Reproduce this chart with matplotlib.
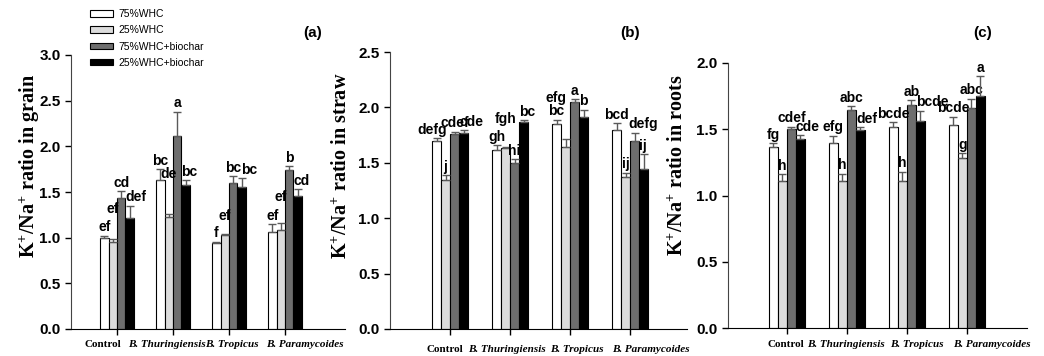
import matplotlib
matplotlib.use("Agg")
import matplotlib.pyplot as plt
import numpy as np

plt.rcParams["font.family"] = ["Liberation Sans", "DejaVu Sans"]
plt.rcParams["mathtext.fontset"] = "custom"
plt.rcParams["mathtext.rm"] = "Liberation Serif:bold"
plt.rcParams["mathtext.it"] = "Liberation Serif:bold"

# data
groups = ["Control", "B. Thuringiensis", "B. Tropicus", "B. Paramycoides"]
treatments = ["75%WHC", "25%WHC", "75%WHC+biochar", "25%WHC+biochar"]

# (a) grain, rows = treatments, cols = groups
grain_mean = [[1.00, 1.63, 0.94, 1.06],
              [0.95, 1.23, 1.03, 1.08],
              [1.43, 2.11, 1.60, 1.74],
              [1.22, 1.58, 1.55, 1.46]]
grain_err = [[0.02, 0.12, 0.015, 0.09],
             [0.03, 0.03, 0.005, 0.08],
             [0.08, 0.27, 0.07, 0.04],
             [0.13, 0.05, 0.10, 0.07]]
grain_sig = [["ef", "bc", "f", "ef"],
             ["ef", "de", "ef", "ef"],
             ["cd", "a", "bc", "b"],
             ["def", "bc", "bc", "cd"]]

# (b) straw
straw_mean = [[1.70, 1.615, 1.85, 1.80],
              [1.345, 1.63, 1.645, 1.37],
              [1.76, 1.50, 2.045, 1.70],
              [1.77, 1.865, 1.91, 1.44]]
straw_err = [[0.02, 0.045, 0.04, 0.06],
             [0.045, 0.01, 0.07, 0.04],
             [0.02, 0.03, 0.03, 0.07],
             [0.025, 0.02, 0.07, 0.14]]
straw_sig = [["defg", "gh", "bc", "bcd"],
             ["j", "fgh", "efg", "ij"],
             ["cdef", "hi", "a", "defg"],
             ["cde", "bc", "b", "ij"]]

# (c) roots
roots_mean = [[1.365, 1.40, 1.515, 1.535],
              [1.11, 1.11, 1.11, 1.28],
              [1.505, 1.645, 1.68, 1.66],
              [1.43, 1.495, 1.56, 1.75]]
roots_err = [[0.03, 0.05, 0.04, 0.06],
             [0.05, 0.055, 0.07, 0.04],
             [0.015, 0.03, 0.04, 0.07],
             [0.025, 0.02, 0.08, 0.15]]
roots_sig = [["fg", "efg", "bcde", "bcde"],
             ["h", "h", "h", "g"],
             ["cdef", "abc", "ab", "abc"],
             ["cde", "def", "bcde", "a"]]

colors = ["white", "#dcdcdc", "#6e6e6e", "black"]
W, H = 1044, 356

# hand nudges for the letters (pixels), keyed (treatment, group)
nudge_a = {(1, 0): (0, 22), (1, 1): (0, 32), (1, 2): (0, 10), (1, 3): (0, 18),
           (3, 2): (4, 0)}
nudge_b = {(0, 0): (-4, 0), (1, 1): (0, 20), (1, 2): (-10, 33), (2, 3): (9, 0)}
nudge_c = {}


def draw_panel(ax, mean, err, sig, ymax, xlim, nudge, ylabel_txt, lab_x, lab_off, lab_dy):
    x = np.arange(1, len(groups) + 1)
    w = 0.15
    for i in range(len(treatments)):
        pos = x + (i - 1.5) * w
        ax.bar(pos, mean[i], width=w, color=colors[i], edgecolor="black",
               linewidth=0.8, label=treatments[i], zorder=2)
        ax.errorbar(pos, mean[i], yerr=[np.zeros(len(groups)), err[i]], fmt="none",
                    ecolor="#5a5a5a", elinewidth=1.0, capsize=3, capthick=1.0, zorder=3)
        for j, (p, m, e, s) in enumerate(zip(pos, mean[i], err[i], sig[i])):
            dx, dy = nudge.get((i, j), (0, 0))
            ha = "center"
            if i == 3 and len(s) > 1:
                p = p - w / 2
                ha = "left"
            ax.annotate(s, (p, m + e), xytext=(dx * 0.72, 1 + dy * 0.72),
                        textcoords="offset points", ha=ha, va="bottom",
                        fontsize=10, fontweight="bold")
    ax.set_xlim(*xlim)
    ax.set_ylim(0, ymax)
    ticks = np.arange(0, ymax + 0.01, 0.5)
    ax.set_yticks(ticks)
    ax.set_yticklabels(["%.1f" % v for v in ticks], fontsize=11, fontweight="bold")
    ax.set_xticks(x)
    ax.set_xticklabels([])
    ax.tick_params(axis="both", direction="out", length=4, width=1)
    for sp in ["top", "right"]:
        ax.spines[sp].set_visible(False)
    ax.spines["left"].set_color("#444444")
    for xi, g, off in zip(x, groups, lab_off):
        style = "normal" if g == "Control" else "italic"
        ax.annotate(g, (xi, 0), xycoords=("data", "axes fraction"),
                    xytext=(off, -lab_dy), textcoords="offset points",
                    ha="center", va="center", fontsize=8, fontweight="bold",
                    fontstyle=style, family="Liberation Serif")
    ax.figure.text(lab_x / W, 0.535, ylabel_txt, rotation=90, ha="center",
                   va="center", fontsize=14.5, fontweight="bold",
                   family="Liberation Serif")


fig = plt.figure(figsize=(10.44, 3.56), dpi=100)

ax1 = fig.add_axes([71 / W, 27 / H, 274 / W, 274 / H])
ax2 = fig.add_axes([390 / W, 27 / H, 297 / W, 277 / H])
ax3 = fig.add_axes([728 / W, 28 / H, 299 / W, 265 / H])

draw_panel(ax1, grain_mean, grain_err, grain_sig, 3.0, (0.18, 5.07), nudge_a,
           r"K$^{+}$/Na$^{+}$ ratio in grain", 30, [-10, -4, 2, 14], 11.5)
draw_panel(ax2, straw_mean, straw_err, straw_sig, 2.5, (0.0, 4.95), nudge_b,
           r"K$^{+}$/Na$^{+}$ ratio in straw", 342, [-4, -2, 5, 15], 15)
draw_panel(ax3, roots_mean, roots_err, roots_sig, 2.0, (0.02, 5.0), nudge_c,
           r"K$^{+}$/Na$^{+}$ ratio in roots", 678, [-1, -1, 7, 18], 12)

for tag, tx in zip(["(a)", "(b)", "(c)"], [313, 630, 983]):
    fig.text(tx / W, 1 - 33 / H, tag, fontsize=11, fontweight="bold",
             ha="center", va="center")

ax1.legend(loc="upper left", bbox_to_anchor=(90 / W, 1 - 9 / H),
           bbox_transform=fig.transFigure, frameon=False, fontsize=7.5,
           borderaxespad=0, borderpad=0, handlelength=2.2, handleheight=0.6,
           handletextpad=0.5, labelspacing=0.6)

fig.savefig("out.png", dpi=100)
